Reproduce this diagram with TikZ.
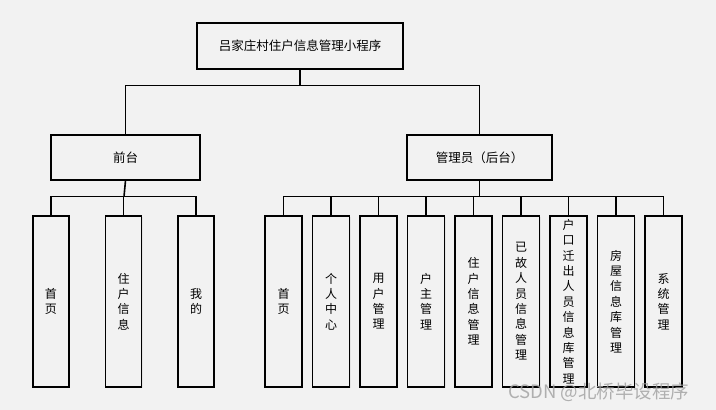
\documentclass[tikz,border=0pt]{standalone}
\usepackage{fontspec}
\setmainfont{Noto Sans CJK SC}
\usetikzlibrary{shadows}
\definecolor{bgc}{HTML}{F2F2F2}
\tikzset{
  box/.style={draw=black, line width=1.2pt, fill=bgc, inner sep=0pt,
    drop shadow={opacity=0.12, shadow xshift=1.2pt, shadow yshift=-1.2pt}},
  bigbox/.style={box, font=\fontsize{12.5}{15}\selectfont},
  leaf/.style={box, minimum width=37pt, minimum height=171pt, align=center,
    font=\fontsize{12}{15.4}\selectfont},
  conn/.style={draw=black, line width=1.6pt},
  wm/.style={text=gray!75, opacity=0.8, font=\fontsize{18.5}{20}\selectfont}
}
\begin{document}
\begin{tikzpicture}[x=1pt,y=-1pt]
\useasboundingbox (0,0) rectangle (716,410);
\fill[bgc] (0,0) rectangle (716,410);
\node[bigbox, minimum width=206pt, minimum height=46pt] (top) at (300,46) {吕家庄村住户信息管理小程序};
\node[bigbox, minimum width=149pt, minimum height=45pt] (front) at (125.5,157.5) {前台};
\node[bigbox, minimum width=145pt, minimum height=45pt] (admin) at (479.5,157.5) {管理员（后台）};
% left leaves
\node[leaf, minimum width=36pt] (l1) at (51,301.5) {首\\页};
\node[leaf, minimum width=36pt] (l2) at (123.5,301.5) {住\\户\\信\\息};
\node[leaf, minimum width=36pt] (l3) at (196,301.5) {我\\的};
% right leaves
\node[leaf] (r1) at (283.5,301.5) {首\\页};
\node[leaf] (r2) at (331,301.5) {个\\人\\中\\心};
\node[leaf] (r3) at (378.5,301.5) {用\\户\\管\\理};
\node[leaf] (r4) at (426,301.5) {户\\主\\管\\理};
\node[leaf] (r5) at (473.5,301.5) {住\\户\\信\\息\\管\\理};
\node[leaf] (r6) at (521,301.5) {已\\故\\人\\员\\信\\息\\管\\理};
\node[leaf] (r7) at (568.5,301.5) {户\\口\\迁\\出\\人\\员\\信\\息\\库\\管\\理};
\node[leaf] (r8) at (616,301.5) {房\\屋\\信\\息\\库\\管\\理};
\node[leaf] (r9) at (663.5,301.5) {系\\统\\管\\理};
% connectors
\draw[conn] (top.south) -- ++(0,16) coordinate (tj);
\draw[conn] (front.north) |- (tj) -| (admin.north);
\draw[conn] (front.south) -- ++(-1.5,16) coordinate (fj);
\draw[conn] (l1.north) |- (fj) -| (l3.north);
\draw[conn] (l2.north) -- (l2.north |- fj);
\draw[conn] (admin.south) -- ++(0,16) coordinate (aj);
\draw[conn] (r1.north) |- (aj) -| (r9.north);
\foreach \i in {2,...,8} \draw[conn] (r\i.north) -- (r\i.north |- aj);
% watermark
\node[wm, anchor=west, inner sep=0pt] (wmark) at (508,392) {CSDN @北桥毕设程序};
\end{tikzpicture}
\end{document}
